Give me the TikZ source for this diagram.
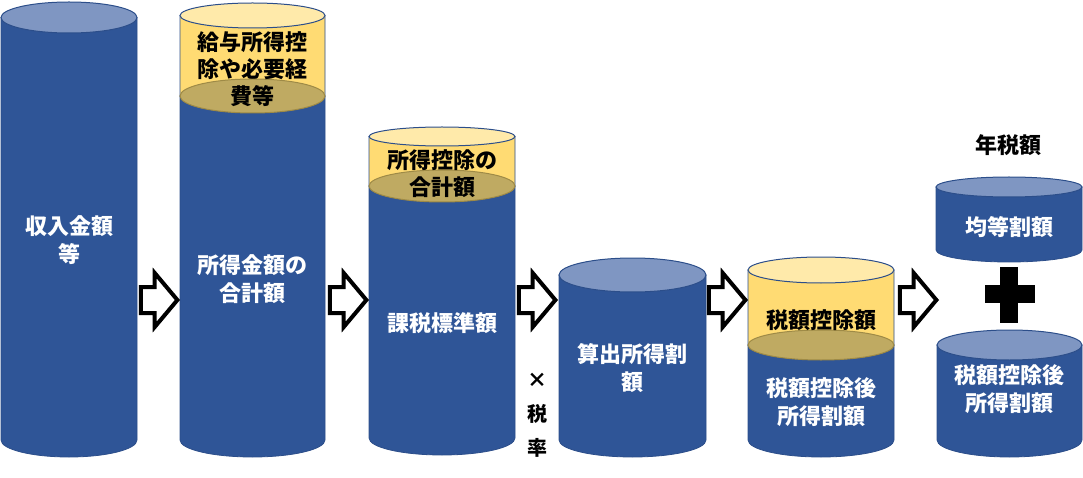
\documentclass[tikz,border=0pt]{standalone}
\usepackage{fontspec}
\setmainfont{Noto Sans CJK JP}
\usetikzlibrary{shapes.arrows}
\definecolor{bodyblue}{RGB}{47,85,151}
\definecolor{edgeblue}{RGB}{44,78,138}
\definecolor{lidblue}{RGB}{127,150,194}
\definecolor{deductyellow}{RGB}{255,219,115}
\definecolor{lidyellow}{RGB}{255,234,170}
\definecolor{khaki}{RGB}{191,170,98}
\definecolor{khakiedge}{RGB}{158,138,70}
\begin{document}
\begin{tikzpicture}[
  x=1pt, y=-1pt,
  body/.style={fill=bodyblue, draw=edgeblue, line width=0.8pt},
  lid/.style={fill=lidblue, draw=edgeblue, line width=1pt},
  deduct/.style={fill=deductyellow, draw=edgeblue, line width=0.8pt},
  deductlid/.style={fill=lidyellow, draw=edgeblue, line width=1pt},
  cut/.style={fill=khaki, draw=khakiedge, line width=1pt},
  wlbl/.style={text=white, font=\fontsize{22}{28}\selectfont\bfseries, align=center, inner sep=0pt},
  blbl/.style={text=black, font=\fontsize{22}{27}\selectfont\bfseries, align=center, inner sep=0pt},
  fwd/.style={single arrow, anchor=tip, draw=black, fill=white, line width=4pt, single arrow head extend=14pt,
    single arrow tip angle=100, inner xsep=0pt, inner ysep=11pt, minimum height=36.5pt, minimum width=50pt}
]
\useasboundingbox (0,0) rectangle (1083,478);

% === Income ===
\path[body] (1,17.5) -- (1,440) arc[start angle=180, end angle=0, x radius=68, y radius=17] -- (137,17.5) -- cycle;
\path[lid] (69,17.5) ellipse[x radius=68, y radius=15.5];
\node[wlbl] (income) at (69,240) {収入金額\\等};

% === Total income, minus employment deduction ===
\path[body] (180,96) -- (180,440) arc[start angle=180, end angle=0, x radius=72.5, y radius=17] -- (325,96) -- cycle;
\path[deduct] (180,15.5) -- (180,96) arc[start angle=180, end angle=0, x radius=72.5, y radius=17] -- (325,15.5) -- cycle;
\path[cut] (252.5,96) ellipse[x radius=72.5, y radius=17];
\path[deductlid] (252.5,15.5) ellipse[x radius=72.5, y radius=12.5];
\node[blbl] (empded) at (252.5,69) {給与所得控\\除や必要経\\費等};
\node[wlbl] (total) at (252.5,279) {所得金額の\\合計額};

% === Taxable base ===
\path[body] (369,186) -- (369,438) arc[start angle=180, end angle=0, x radius=73, y radius=17] -- (515,186) -- cycle;
\path[deduct] (369,136.5) -- (369,186) arc[start angle=180, end angle=0, x radius=73, y radius=16] -- (515,136.5) -- cycle;
\path[cut] (442,186) ellipse[x radius=73, y radius=16];
\path[deductlid] (442,136.5) ellipse[x radius=73, y radius=9.5];
\node[blbl] (incded) at (442,174) {所得控除の\\合計額};
\node[wlbl] (base) at (442,323) {課税標準額};

% tax rate
\node[blbl, font=\fontsize{20}{34}\selectfont\bfseries] (rate) at (537,415) {×\\税\\率};

% === Computed income levy ===
\path[body] (559,275) -- (559,440) arc[start angle=180, end angle=0, x radius=73.5, y radius=17] -- (706,275) -- cycle;
\path[lid] (632.5,275) ellipse[x radius=73.5, y radius=17];
\node[wlbl] (levy) at (632.5,368) {算出所得割\\額};

% === Tax credit ===
\path[body] (748,345) -- (748,440) arc[start angle=180, end angle=0, x radius=73, y radius=17] -- (894,345) -- cycle;
\path[deduct] (748,270) -- (748,345) arc[start angle=180, end angle=0, x radius=73, y radius=15] -- (894,270) -- cycle;
\path[cut] (821,345) ellipse[x radius=73, y radius=15];
\path[deductlid] (821,270) ellipse[x radius=73, y radius=13];
\node[blbl] (credit) at (821,320) {税額控除額};
\node[wlbl] (net) at (821,402) {税額控除後\\所得割額};

% === Annual tax ===
\node[blbl] (annual) at (1008,145) {年税額};
\path[body] (936,187) -- (936,250) arc[start angle=180, end angle=0, x radius=73, y radius=12] -- (1082,187) -- cycle;
\path[lid] (1009,187) ellipse[x radius=73, y radius=10];
\node[wlbl] (flat) at (1009,227) {均等割額};

% plus
\fill[black] (1000,267) rectangle (1018,323);
\fill[black] (985,285) rectangle (1035,303);

\path[body] (937,345) -- (937,440) arc[start angle=180, end angle=0, x radius=72.5, y radius=17] -- (1082,345) -- cycle;
\path[lid] (1009.5,345) ellipse[x radius=72.5, y radius=15];
\node[wlbl] (netlevy) at (1009.5,389) {税額控除後\\所得割額};

% === Arrows ===
\node[fwd] (a1) at (180,300) {};
\node[fwd] (a2) at (369,300) {};
\node[fwd] (a3) at (558,300) {};
\node[fwd] (a4) at (748,300) {};
\node[fwd] (a5) at (939,300) {};

\end{tikzpicture}
\end{document}
